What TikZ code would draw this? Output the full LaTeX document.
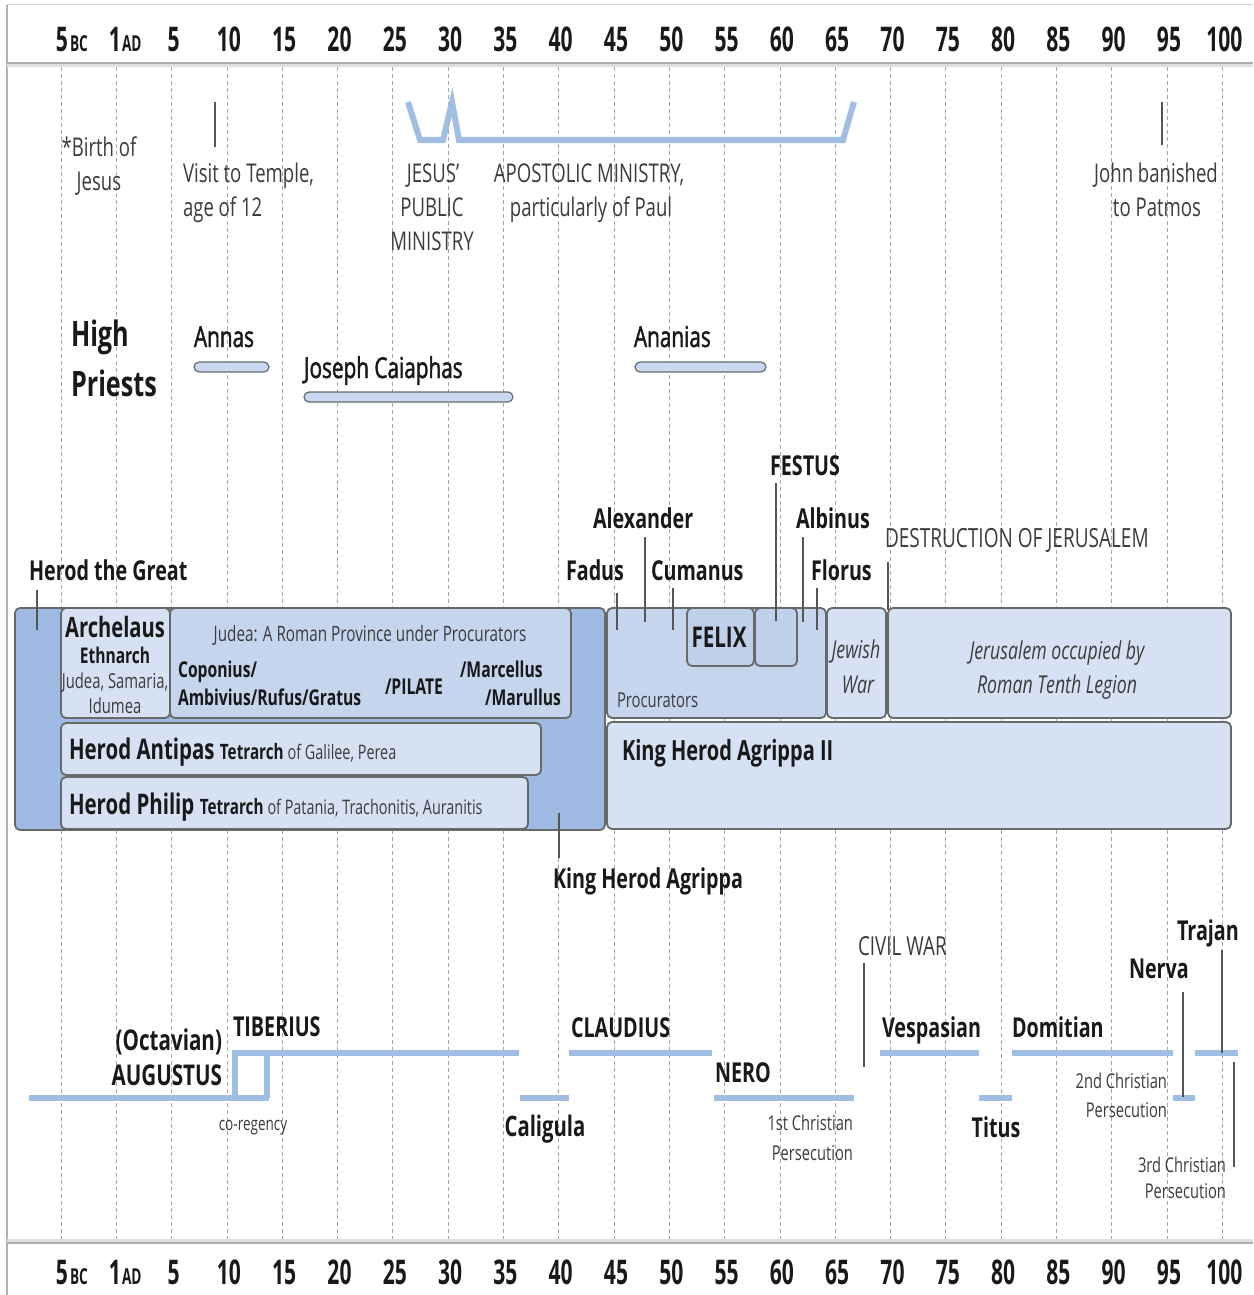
\documentclass[tikz,border=0pt]{standalone}
\usepackage{fontspec}
\setmainfont{Open Sans}[FakeStretch=0.72]
\newfontfamily\hdrfont{Open Sans}[FakeStretch=0.62]
\newfontfamily\medfont{Open Sans}[FakeStretch=0.72, FakeBold=1.6]
\definecolor{bar}{RGB}{160,190,228}
\definecolor{herodD}{RGB}{158,186,226}
\definecolor{boxL}{RGB}{214,226,243}
\definecolor{boxM}{RGB}{197,213,238}
\definecolor{boxF}{RGB}{191,208,235}
\definecolor{pfill}{RGB}{200,216,240}
\definecolor{edge}{RGB}{105,105,105}
\definecolor{tickc}{RGB}{85,85,85}
\definecolor{ink}{RGB}{25,25,25}
\definecolor{lite}{RGB}{60,60,60}
\tikzset{
  gridln/.style={gray!70, line width=0.4pt, dash pattern=on 2pt off 1.5pt},
  hdr/.style={font=\hdrfont\bfseries\fontsize{17}{20}\selectfont, text=ink},
  hdrs/.style={font=\hdrfont\bfseries\fontsize{11}{13}\selectfont, text=ink},
  note/.style={font=\fontsize{12.9}{15}\selectfont, text=lite},
  smallnote/.style={font=\fontsize{10.2}{12}\selectfont, text=lite},
  hp/.style={font=\bfseries\fontsize{17.5}{21}\selectfont, text=ink},
  pname/.style={font=\medfont\fontsize{14.4}{17}\selectfont, text=ink},
  nm/.style={font=\bfseries\fontsize{13.7}{16}\selectfont, text=ink},
  bignm/.style={font=\bfseries\fontsize{14.3}{17}\selectfont, text=ink},
  procb/.style={font=\bfseries\fontsize{10.9}{13}\selectfont, text=ink},
  boxnote/.style={font=\fontsize{10.3}{12}\selectfont, text=lite},
  ital/.style={font=\itshape\fontsize{12.3}{15}\selectfont, text=lite},
  box/.style={draw=edge, line width=0.9pt, rounded corners=2.5pt},
  pbar/.style={draw=edge, line width=0.6pt, fill=pfill, rounded corners=2.5pt},
  ebar/.style={bar, line width=3.2pt},
  tk/.style={tickc, line width=0.75pt},
}
\begin{document}
\begin{tikzpicture}[x=0.5pt,y=-0.5pt, every node/.style={inner sep=0pt,outer sep=0pt}]
\useasboundingbox (0,0) rectangle (1253,1295);
\fill[white] (0,0) rectangle (1253,1295);
% frame
\draw[gray!35, line width=0.5pt] (7,5) -- (1253,5);
\draw[gray!60, line width=0.6pt] (7,5) -- (7,1295);
% grid
\foreach \k in {0,...,21} \draw[gridln] ({61+55.3*\k},67) -- ({61+55.3*\k},1239);
% header bands
\draw[gray!25, line width=1.5pt] (7,66) -- (1253,66);
\draw[gray!65, line width=0.9pt] (7,63) -- (1253,63);
\draw[gray!25, line width=1.5pt] (7,1240) -- (1253,1240);
\draw[gray!65, line width=0.9pt] (7,1243) -- (1253,1243);
% header labels
\node[hdr, anchor=base] (t5bc) at (62,52) {5};
\node[hdrs, anchor=base west] (tbc) at (70,52) {BC};
\node[hdr, anchor=base] (t1ad) at (115,52) {1};
\node[hdrs, anchor=base west] (tad) at (122,52) {AD};
\foreach \lab [count=\k from 2] in {5,10,...,100}
  \node[hdr, anchor=base] (ht\k) at ({63+55.3*\k},52) {\lab};
\node[hdr, anchor=base] (b5bc) at (62,1284) {5};
\node[hdrs, anchor=base west] (bbc) at (70,1284) {BC};
\node[hdr, anchor=base] (b1ad) at (115,1284) {1};
\node[hdrs, anchor=base west] (bad) at (122,1284) {AD};
\foreach \lab [count=\k from 2] in {5,10,...,100}
  \node[hdr, anchor=base] (hb\k) at ({63+55.3*\k},1284) {\lab};

% ---------- top events ----------
\node[note, anchor=base] (birth1) at (99,156) {*Birth of};
\node[note, anchor=base] (birth2) at (99,191) {Jesus};
\coordinate (visitA) at (215,102); \coordinate (visitB) at (215,147);
\draw[tk] (visitA) -- (visitB);
\node[note, anchor=base west] (visit1) at (183,182) {Visit to Temple,};
\node[note, anchor=base west] (visit2) at (183,216) {age of 12};
\draw[bar, line width=3pt, line join=miter] (408,102) -- (420,140) -- (443,140) -- (452,102) -- (459,140) -- (843,140) -- (854,102);
\node[note, anchor=base] (jm1) at (433,182) {JESUS'};
\node[note, anchor=base] (jm2) at (432,216) {PUBLIC};
\node[note, anchor=base] (jm3) at (432,250) {MINISTRY};
\node[note, anchor=base] (ap1) at (589,182) {APOSTOLIC MINISTRY,};
\node[note, anchor=base] (ap2) at (591,216) {particularly of Paul};
\coordinate (johnA) at (1162,102); \coordinate (johnB) at (1162,145);
\draw[tk] (johnA) -- (johnB);
\node[note, anchor=base] (john1) at (1156,182) {John banished};
\node[note, anchor=base] (john2) at (1157,216) {to Patmos};

% ---------- high priests ----------
\node[hp, anchor=base west] (hp1) at (71,346) {High};
\node[hp, anchor=base west] (hp2) at (71,396) {Priests};
\draw[pbar] (194,362) rectangle (269,372);
\node[pname, anchor=base west] (annas) at (194,347) {Annas};
\draw[pbar] (304,392) rectangle (513,402);
\node[pname, anchor=base west] (caiaphas) at (304,378) {Joseph Caiaphas};
\draw[pbar] (635,362) rectangle (766,372);
\node[pname, anchor=base west] (ananias) at (634,347) {Ananias};

% ---------- rulers boxes ----------
\draw[box, fill=herodD] (15,608) rectangle (605,830);
\draw[box, fill=boxL] (61,608) rectangle (170,718);
\draw[box, fill=boxM] (170,608) rectangle (571,718);
\draw[box, fill=boxL] (61,723) rectangle (541,775);
\draw[box, fill=boxL] (61,777) rectangle (528,829);
\draw[box, fill=boxM] (607,608) rectangle (826,718);
\draw[box, fill=boxF] (687,608) rectangle (754,666);
\draw[box, fill=boxF] (755,608) rectangle (797,666);
\draw[box, fill=boxL] (827,608) rectangle (886,718);
\draw[box, fill=boxL] (888,608) rectangle (1231,718);
\draw[box, fill=boxL] (607,722) rectangle (1231,829);

% texts in boxes
\node[bignm, font=\bfseries\fontsize{14}{17}\selectfont, anchor=base] (archelaus) at (115,637) {Archelaus};
\node[font=\bfseries\fontsize{10.8}{13}\selectfont, text=ink, anchor=base] (ethnarch) at (115,663) {Ethnarch};
\node[boxnote, anchor=base] (arch1) at (115,688) {Judea, Samaria,};
\node[boxnote, anchor=base] (arch2) at (115,713) {Idumea};
\node[boxnote, font=\fontsize{10.6}{13}\selectfont, anchor=base] (judea) at (370,641) {Judea: A Roman Province under Procurators};
\node[procb, anchor=base west] (cop1) at (178,677) {Coponius/};
\node[procb, anchor=base west] (cop2) at (178,705) {Ambivius/Rufus/Gratus};
\node[procb, anchor=base west] (pilate) at (385,694) {/PILATE};
\node[procb, anchor=base west] (marc) at (460,677) {/Marcellus};
\node[procb, anchor=base east] (maru) at (561,705) {/Marullus};
\node[anchor=base west, text=ink] (antipas) at (69,759) {\bfseries\fontsize{14.2}{17}\selectfont Herod Antipas \fontsize{10.6}{13}\selectfont Tetrarch \mdseries\fontsize{10}{12}\selectfont\color{lite}of Galilee, Perea};
\node[anchor=base west, text=ink] (philip) at (69,814) {\bfseries\fontsize{14.2}{17}\selectfont Herod Philip \fontsize{10.6}{13}\selectfont Tetrarch \mdseries\fontsize{10}{12}\selectfont\color{lite}of Patania, Trachonitis, Auranitis};
\node[bignm, anchor=base] (felix) at (719,647) {FELIX};
\node[boxnote, anchor=base west] (procs) at (617,707) {Procurators};
\node[ital, anchor=base] (jw1) at (856,658) {Jewish};
\node[ital, anchor=base] (jw2) at (858,693) {War};
\node[ital, anchor=base] (jer1) at (1057,659) {Jerusalem occupied by};
\node[ital, anchor=base] (jer2) at (1057,693) {Roman Tenth Legion};
\node[nm, font=\bfseries\fontsize{13.9}{16}\selectfont, anchor=base west] (agrippa2) at (622,760) {King Herod Agrippa II};

% labels above boxes
\node[nm, anchor=base west] (herodg) at (29,580) {Herod the Great};
\node[nm, anchor=base west] (fadus) at (566,580) {Fadus};
\node[nm, anchor=base west] (cumanus) at (651,580) {Cumanus};
\node[nm, anchor=base west] (florus) at (811,580) {Florus};
\node[nm, anchor=base west] (alexander) at (593,528) {Alexander};
\node[nm, anchor=base west] (albinus) at (796,528) {Albinus};
\node[nm, anchor=base west] (festus) at (770,475) {FESTUS};
\node[note, font=\fontsize{13.2}{15}\selectfont, anchor=base west] (destr) at (885,547) {DESTRUCTION OF JERUSALEM};
\node[nm, anchor=base west] (agrippa) at (553,888) {King Herod Agrippa};

% ticks
\coordinate (herodA) at (37,590); \coordinate (herodB) at (37,630);
\coordinate (fadusA) at (617,593); \coordinate (fadusB) at (617,630);
\coordinate (alexA) at (645,537); \coordinate (alexB) at (645,622);
\coordinate (cumA) at (673,588); \coordinate (cumB) at (673,630);
\coordinate (festA) at (776,483); \coordinate (festB) at (776,621);
\coordinate (albA) at (803,537); \coordinate (albB) at (803,622);
\coordinate (florA) at (817,588); \coordinate (florB) at (817,630);
\coordinate (destA) at (888,562); \coordinate (destB) at (888,610);
\coordinate (agrA) at (559,813); \coordinate (agrB) at (559,858);
\foreach \a/\b in {herodA/herodB,fadusA/fadusB,alexA/alexB,cumA/cumB,festA/festB,albA/albB,florA/florB,destA/destB,agrA/agrB}
  \draw[tk] (\a) -- (\b);

% ---------- emperors ----------
\draw[ebar] (29,1098) -- (269,1098);
\draw[ebar] (232,1053) -- (519,1053);
\draw[ebar] (235,1053) -- (235,1098);
\draw[ebar] (267,1053) -- (267,1098);
\draw[ebar] (520,1098) -- (569,1098);
\draw[ebar] (569,1053) -- (712,1053);
\draw[ebar] (714,1098) -- (854,1098);
\draw[ebar] (880,1053) -- (979,1053);
\draw[ebar] (979,1098) -- (1012,1098);
\draw[ebar] (1012,1053) -- (1173,1053);
\draw[ebar] (1173,1098) -- (1195,1098);
\draw[ebar] (1195,1053) -- (1238,1053);

\node[bignm, anchor=base east] (octavian) at (222,1050) {(Octavian)};
\node[nm, font=\bfseries\fontsize{14.3}{17}\selectfont, anchor=base east] (augustus) at (222,1085) {AUGUSTUS};
\node[nm, anchor=base west] (tiberius) at (233,1036) {TIBERIUS};
\node[smallnote, font=\fontsize{9.4}{11}\selectfont, anchor=base] (coreg) at (253,1130) {co-regency};
\node[nm, font=\bfseries\fontsize{14.1}{17}\selectfont, anchor=base] (caligula) at (545,1136) {Caligula};
\node[nm, anchor=base west] (claudius) at (571,1037) {CLAUDIUS};
\node[nm, anchor=base west] (nero) at (715,1082) {NERO};
\node[smallnote, anchor=base east] (p1a) at (853,1130) {1st Christian};
\node[smallnote, anchor=base east] (p1b) at (853,1160) {Persecution};
\coordinate (civA) at (864,963); \coordinate (civB) at (864,1067);
\draw[tk] (civA) -- (civB);
\node[note, font=\fontsize{13.1}{15}\selectfont, anchor=base west] (civil) at (858,955) {CIVIL WAR};
\node[nm, anchor=base west] (vespasian) at (882,1037) {Vespasian};
\node[nm, anchor=base] (titus) at (996,1137) {Titus};
\node[nm, anchor=base west] (domitian) at (1012,1037) {Domitian};
\node[smallnote, anchor=base east] (p2a) at (1167,1088) {2nd Christian};
\node[smallnote, anchor=base east] (p2b) at (1167,1117) {Persecution};
\coordinate (nervA) at (1183,992); \coordinate (nervB) at (1183,1097);
\draw[tk] (nervA) -- (nervB);
\node[nm, anchor=base west] (nerva) at (1129,978) {Nerva};
\coordinate (trajA) at (1222,950); \coordinate (trajB) at (1222,1053);
\draw[tk] (trajA) -- (trajB);
\node[nm, anchor=base west] (trajan) at (1177,940) {Trajan};
\coordinate (p3A) at (1234,1062); \coordinate (p3B) at (1234,1167);
\draw[tk] (p3A) -- (p3B);
\node[smallnote, anchor=base east] (p3a) at (1226,1172) {3rd Christian};
\node[smallnote, anchor=base east] (p3b) at (1226,1198) {Persecution};
\end{tikzpicture}
\end{document}
